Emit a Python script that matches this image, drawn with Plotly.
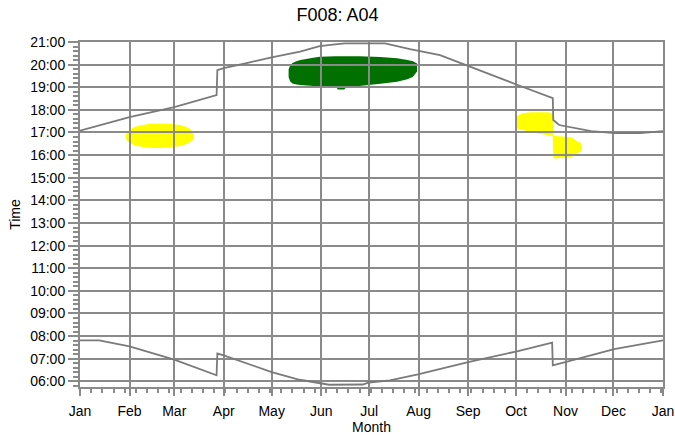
import plotly.graph_objects as go

# ---- data (day of year, time in decimal hours) ----
month_ticks = [0, 31, 59, 90, 120, 151, 181, 212, 243, 273, 304, 334, 365]
month_labels = ["Jan", "Feb", "Mar", "Apr", "May", "Jun", "Jul", "Aug", "Sep", "Oct", "Nov", "Dec", "Jan"]
hour_ticks = list(range(6, 22))
hour_labels = [f"{h:02d}:00" for h in hour_ticks]

sunset_days = [0, 25, 31, 59, 85.5, 86, 90, 105, 120, 137.8, 150, 161, 166, 191, 206.6, 225.4,
               243, 257, 274, 296, 296.3, 300, 320, 335, 351, 365]
sunset_time = [17.08, 17.55, 17.68, 18.12, 18.65, 19.76, 19.85, 20.08, 20.32, 20.57, 20.82, 20.91,
               20.94, 20.94, 20.68, 20.42, 19.94, 19.54, 19.10, 18.52, 17.55, 17.33, 17.06, 16.97,
               16.97, 17.06]

sunrise_days = [0, 12, 31, 59, 85.5, 86, 90, 120, 137.5, 150.3, 156, 177, 181, 194, 211.6, 243,
                273.6, 295.6, 296, 305, 334.4, 365]
sunrise_time = [7.81, 7.81, 7.55, 6.96, 6.27, 7.23, 7.15, 6.41, 6.07, 5.94, 5.85, 5.86, 5.95,
                6.04, 6.31, 6.85, 7.33, 7.71, 6.71, 6.87, 7.42, 7.81]

# shadow periods: per-day start (low) and end (high) times
yellow1_days = [28.6, 29.5, 31.3, 34, 37.6, 43.8, 50.1, 56.4, 62.6, 66, 68.9, 70.6, 71.4]
yellow1_high = [16.86, 17.02, 17.13, 17.24, 17.31, 17.39, 17.40, 17.39, 17.33, 17.26, 17.15, 17.02, 16.86]
yellow1_low = [16.78, 16.62, 16.53, 16.44, 16.38, 16.31, 16.31, 16.33, 16.40, 16.47, 16.58, 16.66, 16.74]

green_days = [130.6, 131.5, 133, 135.5, 138, 146, 150, 160, 161.5, 165.5, 167, 175, 188, 198.5,
              205, 208.5, 211]
green_high = [19.80, 19.95, 20.07, 20.15, 20.20, 20.30, 20.35, 20.37, 20.37, 20.37, 20.37, 20.37,
              20.34, 20.28, 20.20, 20.15, 20.05]
green_low = [19.45, 19.27, 19.17, 19.12, 19.10, 19.05, 19.04, 19.03, 18.90, 18.90, 19.03, 19.05,
             19.15, 19.24, 19.35, 19.46, 19.70]

yellow2_days = [272.8, 273.6, 276.6, 282, 287, 293, 296.0, 296.3, 297.4, 302, 308, 311, 313.4, 314.2]
yellow2_high = [17.52, 17.72, 17.85, 17.90, 17.90, 17.89, 17.85, 16.86, 16.84, 16.82, 16.78, 16.62,
                16.55, 16.45]
yellow2_low = [17.30, 17.18, 17.11, 17.04, 16.96, 16.88, 16.84, 15.87, 15.85, 15.88, 15.93, 16.08,
               16.15, 16.25]

GRID = "#8a8a8a"
LINE = "#7a7a7a"
FONT = "Arial, Liberation Sans, sans-serif"


def blob_path(days, low, high):
    pts = list(zip(days, high)) + list(zip(days[::-1], low[::-1]))
    return "M " + " L ".join(f"{x},{y}" for x, y in pts) + " Z"


fig = go.Figure()
fig.add_trace(go.Scatter(x=sunset_days, y=sunset_time, mode="lines",
                         line=dict(color=LINE, width=1.8), hoverinfo="skip", showlegend=False))
fig.add_trace(go.Scatter(x=sunrise_days, y=sunrise_time, mode="lines",
                         line=dict(color=LINE, width=1.8), hoverinfo="skip", showlegend=False))

for d, lo, hi, col in [(yellow1_days, yellow1_low, yellow1_high, "#ffff00"),
                       (green_days, green_low, green_high, "#007000"),
                       (yellow2_days, yellow2_low, yellow2_high, "#ffff00")]:
    fig.add_shape(type="path", path=blob_path(d, lo, hi), xref="x", yref="y",
                  fillcolor=col, line=dict(width=0), layer="below")

fig.update_layout(
    width=675, height=439,
    margin=dict(l=80, r=12, t=42, b=52),
    paper_bgcolor="white", plot_bgcolor="white",
    font=dict(family=FONT, size=14, color="#000000"),
    title=dict(text="F008: A04", x=0.5, xref="container", y=1 - 15 / 439, yref="container",
               xanchor="center", yanchor="middle", font=dict(family=FONT, size=18, color="#000")),
    xaxis=dict(range=[0, 365], tickmode="array", tickvals=month_ticks, ticktext=month_labels,
               automargin=False,
               showgrid=True, gridcolor=GRID, gridwidth=2,
               showline=True, linecolor=GRID, linewidth=2, mirror=True,
               ticks="outside", ticklen=7, tickwidth=1.5, tickcolor=GRID, ticklabelstandoff=3,
               minor=dict(tickmode="linear", tick0=0, dtick=7, ticks="outside", ticklen=4,
                          tickwidth=1.5, tickcolor=GRID, showgrid=False),
               title=dict(text="Month", standoff=4, font=dict(size=14)),
               zeroline=False, fixedrange=True),
    yaxis=dict(range=[5.75, 21], tickmode="array", tickvals=hour_ticks, ticktext=hour_labels,
               automargin=False,
               showgrid=True, gridcolor=GRID, gridwidth=2,
               showline=True, linecolor=GRID, linewidth=2, mirror=True,
               ticks="outside", ticklen=10, tickwidth=1.5, tickcolor=GRID,
               minor=dict(tickmode="linear", tick0=0, dtick=0.2, ticks="outside", ticklen=5,
                          tickwidth=1.5, tickcolor=GRID, showgrid=False),
               title=dict(text="Time", standoff=6, font=dict(size=14)),
               zeroline=False, fixedrange=True),
)

fig.write_html("out.html", config={"displayModeBar": False},
               post_script="document.body.style.margin='0';document.body.style.overflow='hidden';")
